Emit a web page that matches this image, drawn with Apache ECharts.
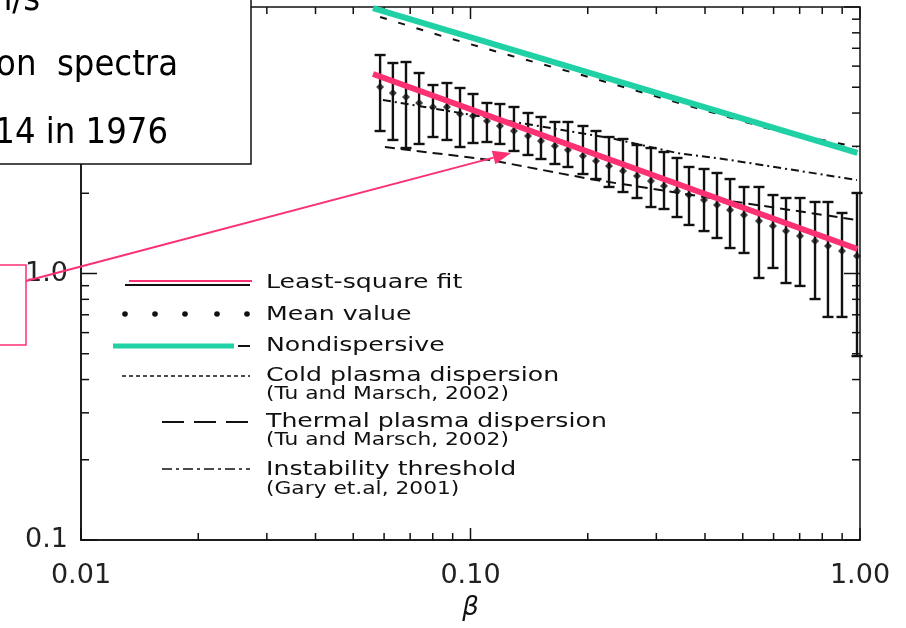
<!DOCTYPE html>
<html>
<head>
<meta charset="utf-8">
<script src="https://cdn.jsdelivr.net/npm/echarts@6/dist/echarts.min.js"></script>
<style>
  html, body { margin: 0; padding: 0; background: #fff; }
  #chart { width: 906px; height: 628px; }
</style>
</head>
<body>
<div id="chart"></div>
<script>
// binned beta values with mean and error range
const betaBins = [0.0586, 0.0632, 0.0683, 0.0738, 0.0801, 0.0870, 0.0940, 0.1015, 0.1102, 0.1190,
  0.1293, 0.1405, 0.1517, 0.1647, 0.1779, 0.1944, 0.2100, 0.2268, 0.2463, 0.2676,
  0.2906, 0.3139, 0.3390, 0.3639, 0.3977, 0.4294, 0.4638, 0.5038, 0.5503, 0.5978,
  0.6457, 0.7015, 0.7666, 0.8275, 0.8990, 0.9824];
const meanValue = [5.010, 4.757, 4.596, 4.364, 4.215, 4.215, 3.967, 3.899, 3.735, 3.577,
  3.425, 3.281, 3.142, 3.009, 2.907, 2.760, 2.643, 2.532, 2.424, 2.322,
  2.224, 2.130, 2.040, 1.970, 1.887, 1.807, 1.730, 1.658, 1.574, 1.508,
  1.443, 1.382, 1.324, 1.268, 1.214, 1.163];
const errHigh = [6.605, 6.164, 6.217, 5.653, 5.096, 5.185, 4.967, 4.716, 4.364, 4.325,
  4.215, 4.002, 3.866, 3.703, 3.703, 3.577, 3.425, 3.252, 3.197, 3.035,
  2.957, 2.857, 2.713, 2.510, 2.467, 2.383, 2.262, 2.112, 2.112, 1.970,
  1.920, 1.920, 1.855, 1.855, 1.687, 2.005];
const errLow = [3.425, 3.170, 2.957, 3.062, 3.252, 3.170, 2.983, 3.088, 3.115, 3.062,
  2.882, 2.784, 2.689, 2.576, 2.510, 2.362, 2.262, 2.112, 2.022, 1.920,
  1.776, 1.746, 1.629, 1.521, 1.443, 1.359, 1.246, 1.194, 0.962, 1.049,
  0.921, 0.898, 0.802, 0.687, 0.687, 0.490];

// fit and model curves
const fitBeta = [0.0562, 0.985];
const fitValue = [5.606, 1.236];
const nondispBeta = [0.0562, 0.985];
const nondispValue = [9.91, 2.833];
const coldBeta = [0.0586, 0.0860, 0.1278, 0.1888, 0.6120, 0.9824];
const coldValue = [9.172, 7.717, 6.549, 5.606, 3.425, 2.983];
const thermalBeta = [0.0603, 0.1122, 0.2026, 0.4638, 0.9824];
const thermalValue = [2.983, 2.667, 2.262, 1.871, 1.588];
const instabBeta = [0.0596, 0.2281, 0.3390, 0.4638, 0.9824];
const instabValue = [4.478, 3.224, 2.833, 2.667, 2.243];

// axis ticks
const xMajorTicks = [0.01, 0.1, 1];
const xMinorTicks = [0.02, 0.03, 0.04, 0.05, 0.06, 0.07, 0.08, 0.09, 0.2, 0.3, 0.4, 0.5, 0.6, 0.7, 0.8, 0.9];
const yMajorTicks = [0.1, 1, 10];
const yMinorTicks = [0.2, 0.3, 0.4, 0.5, 0.6, 0.7, 0.8, 0.9, 2, 3, 4, 5, 6, 7, 8, 9];

const X_MIN = 0.01, X_MAX = 1, Y_MIN = 0.1, Y_MAX = 10;
const INK = '#111';
const PINK = '#fb3172';
const GREEN = '#1fd1a5';
const FONT = 'DejaVu Sans';

const pairs = (xs, ys) => xs.map((x, i) => [x, ys[i]]);
const tickStyle = { stroke: INK, lineWidth: 1.5 };

// ticks on bottom and top edges, pointing inward
function xTicks(vals, len) {
  return {
    type: 'custom', silent: true, clip: false, z: 5,
    data: vals.map(v => [v, Y_MIN]),
    encode: { x: 0, y: 1 },
    renderItem: (params, api) => {
      const b = api.coord([api.value(0), Y_MIN]);
      const t = api.coord([api.value(0), Y_MAX]);
      return { type: 'group', children: [
        { type: 'line', shape: { x1: b[0], y1: b[1], x2: b[0], y2: b[1] - len }, style: tickStyle },
        { type: 'line', shape: { x1: t[0], y1: t[1], x2: t[0], y2: t[1] + len }, style: tickStyle }
      ]};
    }
  };
}
// ticks on left and right edges
function yTicks(vals, len) {
  return {
    type: 'custom', silent: true, clip: false, z: 5,
    data: vals.map(v => [X_MIN, v]),
    encode: { x: 0, y: 1 },
    renderItem: (params, api) => {
      const l = api.coord([X_MIN, api.value(1)]);
      const r = api.coord([X_MAX, api.value(1)]);
      return { type: 'group', children: [
        { type: 'line', shape: { x1: l[0], y1: l[1], x2: l[0] + len, y2: l[1] }, style: tickStyle },
        { type: 'line', shape: { x1: r[0], y1: r[1], x2: r[0] - len, y2: r[1] }, style: tickStyle }
      ]};
    }
  };
}

function renderErrorBar(params, api) {
  const x = api.value(0);
  const lo = api.coord([x, api.value(1)]);
  const hi = api.coord([x, api.value(2)]);
  const cap = 5.5;
  const st = { stroke: INK, lineWidth: 2.4 };
  return { type: 'group', children: [
    { type: 'line', shape: { x1: hi[0], y1: hi[1], x2: lo[0], y2: lo[1] }, style: st },
    { type: 'line', shape: { x1: hi[0] - cap, y1: hi[1], x2: hi[0] + cap, y2: hi[1] }, style: st },
    { type: 'line', shape: { x1: lo[0] - cap, y1: lo[1], x2: lo[0] + cap, y2: lo[1] }, style: st }
  ]};
}

// legend and slide annotations
function legendText(text, x, y, size, sx) {
  return { type: 'text', x: x, y: y, scaleX: sx, z: 100,
    style: { text: text, x: 0, y: 0, font: size + 'px "' + FONT + '"', fill: INK,
      textAlign: 'left', textVerticalAlign: 'middle' } };
}
function hline(x1, x2, y, color, w, dash) {
  return { type: 'line', z: 100, shape: { x1: x1, y1: y, x2: x2, y2: y },
    style: { stroke: color, lineWidth: w, lineDash: dash || null } };
}
function arrow(x1, y1, x2, y2) {
  const dx = x2 - x1, dy = y2 - y1, L = Math.hypot(dx, dy);
  const ux = dx / L, uy = dy / L, hl = 18, hw = 7;
  const bx = x2 - ux * hl, by = y2 - uy * hl;
  return [
    { type: 'line', z: 101, shape: { x1: x1, y1: y1, x2: bx, y2: by }, style: { stroke: PINK, lineWidth: 2 } },
    { type: 'polygon', z: 101, shape: { points: [[x2, y2], [bx - uy * hw, by + ux * hw], [bx + uy * hw, by - ux * hw]] },
      style: { fill: PINK } }
  ];
}

const boxFont = '36px "DejaVu Sans Condensed", "DejaVu Sans"';
const graphics = [
  { type: 'rect', z: 99, shape: { x: -2, y: -2, width: 253, height: 166 },
    style: { fill: '#fff', stroke: INK, lineWidth: 1.5 } },
  { type: 'text', z: 100, style: { text: 'km/s', x: 40, y: 1, font: boxFont, fill: '#000', textAlign: 'right', textVerticalAlign: 'middle' } },
  { type: 'text', z: 100, style: { text: 'on  spectra', x: 178, y: 66, font: boxFont, fill: '#000', textAlign: 'right', textVerticalAlign: 'middle' } },
  { type: 'text', z: 100, style: { text: '14 in 1976', x: 168, y: 134, font: boxFont, fill: '#000', textAlign: 'right', textVerticalAlign: 'middle' } },
  { type: 'rect', z: 100, shape: { x: -2, y: 265, width: 28, height: 80 },
    style: { fill: 'none', stroke: PINK, lineWidth: 1.5 } },
  ...arrow(26, 281, 511, 153),

  hline(125, 250, 285, INK, 2),
  hline(129, 252, 281, PINK, 2),
  ...[125, 155, 185, 217, 247].map(x => ({ type: 'circle', z: 100, shape: { cx: x, cy: 314, r: 2.8 }, style: { fill: INK } })),
  hline(113, 234, 346, GREEN, 5),
  hline(238, 250, 346, INK, 2),
  hline(122, 250, 376, INK, 1.5, [4, 3]),
  hline(162, 250, 422, INK, 1.8, [22, 10]),
  hline(162, 250, 469, INK, 1.5, [10, 4, 3, 4]),

  legendText('Least-square fit', 266, 283, 20, 1.26),
  legendText('Mean value', 266, 315, 20, 1.26),
  legendText('Nondispersive', 266, 346, 20, 1.26),
  legendText('Cold plasma dispersion', 266, 376, 20, 1.26),
  legendText('(Tu and Marsch, 2002)', 266, 395, 17, 1.28),
  legendText('Thermal plasma dispersion', 266, 422, 20, 1.26),
  legendText('(Tu and Marsch, 2002)', 266, 441, 17, 1.28),
  legendText('Instability threshold', 266, 470, 20, 1.26),
  legendText('(Gary et.al, 2001)', 266, 490, 17, 1.28)
];

const chart = echarts.init(document.getElementById('chart'), null, { renderer: 'canvas' });
chart.setOption({
  backgroundColor: '#fff',
  animation: false,
  grid: { left: 81, right: 46, top: 7, bottom: 88, show: true, borderColor: INK, borderWidth: 1.5,
    outerBoundsMode: 'none' },
  xAxis: {
    type: 'log', logBase: 10, min: X_MIN, max: X_MAX,
    name: 'β', nameLocation: 'middle', nameGap: 55,
    nameTextStyle: { fontFamily: FONT, fontSize: 26, fontStyle: 'italic', color: INK },
    axisLine: { show: true, lineStyle: { color: INK, width: 1.5 } },
    axisTick: { show: false },
    splitLine: { show: false },
    axisLabel: { margin: 22, fontFamily: FONT, fontSize: 27, color: '#222',
      showMinLabel: true, showMaxLabel: true, formatter: v => Number(v).toFixed(2) }
  },
  yAxis: {
    type: 'log', logBase: 10, min: Y_MIN, max: Y_MAX,
    axisLine: { show: true, lineStyle: { color: INK, width: 1.5 } },
    axisTick: { show: false },
    splitLine: { show: false },
    axisLabel: { margin: 13, fontFamily: FONT, fontSize: 27, color: '#222',
      showMinLabel: true, showMaxLabel: true, formatter: v => Number(v).toFixed(1) }
  },
  series: [
    xTicks(xMajorTicks, 12),
    xTicks(xMinorTicks, 7),
    yTicks(yMajorTicks, 16),
    yTicks(yMinorTicks, 8),
    { name: 'Thermal plasma dispersion', type: 'line', symbol: 'none', z: 3,
      data: pairs(thermalBeta, thermalValue), lineStyle: { color: INK, width: 2, type: [10, 6] } },
    { name: 'Instability threshold', type: 'line', symbol: 'none', z: 3,
      data: pairs(instabBeta, instabValue), lineStyle: { color: INK, width: 2, type: [8, 4, 2, 4] } },
    { name: 'Cold plasma dispersion', type: 'line', symbol: 'none', z: 3,
      data: pairs(coldBeta, coldValue), lineStyle: { color: INK, width: 2, type: [7, 12] } },
    { name: 'error', type: 'custom', z: 4, renderItem: renderErrorBar,
      data: betaBins.map((b, i) => [b, errLow[i], errHigh[i]]), encode: { x: 0, y: [1, 2] } },
    { name: 'Mean value', type: 'scatter', symbol: 'diamond', symbolSize: 8, z: 5,
      data: pairs(betaBins, meanValue), itemStyle: { color: INK } },
    { name: 'Nondispersive', type: 'line', symbol: 'none', z: 6,
      data: pairs(nondispBeta, nondispValue), lineStyle: { color: GREEN, width: 6 } },
    { name: 'Least-square fit', type: 'line', symbol: 'none', z: 6,
      data: pairs(fitBeta, fitValue), lineStyle: { color: PINK, width: 6 } }
  ],
  graphic: graphics
});
</script>
</body>
</html>
